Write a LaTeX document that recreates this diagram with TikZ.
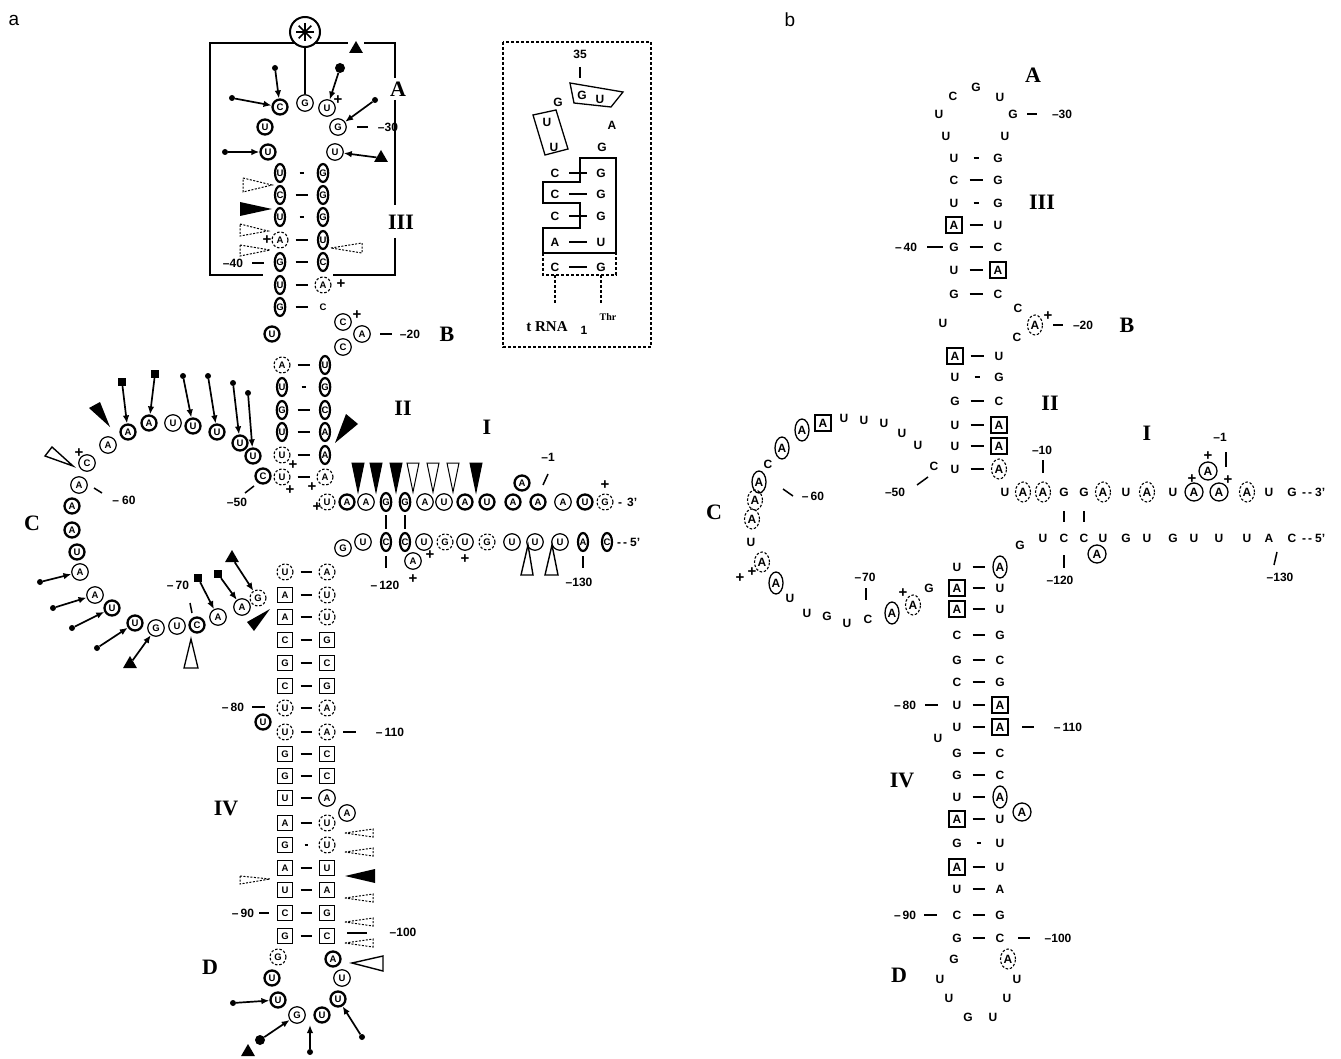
\documentclass[tikz,border=0pt]{standalone}
\usepackage{fontspec}
\setmainfont{Liberation Serif}
\setsansfont{Liberation Sans}
\usetikzlibrary{shapes.geometric,arrows.meta}
\tikzset{
  nt/.style={inner sep=0pt,font=\sffamily\bfseries\fontsize{9.5}{9.5}\selectfont},
  bc/.style={nt,circle,draw,line width=2.3pt,minimum size=15pt},
  mc/.style={nt,circle,draw,line width=1.2pt,minimum size=16.5pt},
  dc/.style={nt,circle,draw,line width=1.1pt,dash pattern=on 2.5pt off 1.8pt,minimum size=16pt},
  el/.style={nt,ellipse,draw,line width=2.2pt,minimum width=10pt,minimum height=18pt},
  bx/.style={nt,rectangle,draw,line width=1.4pt,minimum size=15pt},
  pl/.style={nt},
  num/.style={inner sep=0pt,font=\sffamily\bfseries\fontsize{12}{12}\selectfont},
  rl/.style={inner sep=0pt,font=\rmfamily\bfseries\fontsize{22}{22}\selectfont},
  pls/.style={inner sep=0pt,font=\sffamily\bfseries\fontsize{15}{15}\selectfont},
  bn/.style={inner sep=0pt,font=\sffamily\bfseries\fontsize{12}{12}\selectfont},
  bnx/.style={bn,rectangle,draw,line width=1.4pt,minimum size=16pt},
  bnc/.style={bn,circle,draw,line width=1.3pt,minimum size=18pt},
  bne/.style={bn,ellipse,draw,line width=1.3pt,minimum width=14pt,minimum height=22pt},
  bnd/.style={bn,ellipse,draw,line width=1.1pt,dash pattern=on 2.5pt off 1.8pt,minimum width=15pt,minimum height=20pt},
  bp/.style={line width=2.2pt,shorten <=15.5pt,shorten >=15.5pt},
  wp/.style={line width=2.2pt,shorten <=19.5pt,shorten >=19.5pt},
  ip/.style={line width=1.8pt,shorten <=14pt,shorten >=14pt},
  arr/.style={line width=1.7pt,-{Latex[length=8pt,width=6.5pt]}},
  dotn/.style={circle,fill,inner sep=0pt,minimum size=6pt},
  bdot/.style={circle,fill,inner sep=0pt,minimum size=10pt},
  sqn/.style={rectangle,fill,inner sep=0pt,minimum size=8pt},
  trin/.style={regular polygon,regular polygon sides=3,fill,inner sep=0pt,minimum size=16pt},
  dw/.style={line width=1pt,dash pattern=on 2pt off 1.5pt},
  tk/.style={line width=1.5pt},
}
\begin{document}
\begin{tikzpicture}[x=1pt,y=-1pt]
\useasboundingbox (0,0) rectangle (1341,1059);
\node[font=\sffamily\fontsize{19}{19}\selectfont] (lbla) at (14,20) {a};
\node[font=\sffamily\fontsize{19}{19}\selectfont] (lblb) at (790,20) {b};

% ================= PANEL A =================
% --- loop A
\node[circle,draw,line width=2pt,minimum size=30pt,inner sep=0pt] (star) at (305,32) {};
\foreach \ang in {0,45,90,135}
  \draw[line width=1.6pt] ([shift={(\ang:9pt)}]star.center) -- ([shift={(\ang+180:9pt)}]star.center);
\fill (star.center) circle (2.2pt);
\draw[tk] (295,43) -- (210,43) -- (210,275) -- (263,275);
\draw[tk] (315,43) -- (348,43);
\node[trin] (atop) at (356,49) {};
\draw[tk] (364,43) -- (395,43) -- (395,78);
\draw[tk] (395,100) -- (395,205);
\draw[tk] (395,238) -- (395,275) -- (333,275);
\node[rl] (labA) at (398,89) {A};
\node[rl] (labIII) at (401,222) {III};

\foreach \nm/\xx/\yy/\st/\lt in {la1/280/107/bc/C, la2/305/103/mc/G, la3/327/108/mc/U, la4/265/127/bc/U,
  la5/338/127/mc/G, la6/268/152/bc/U, la7/335/152/mc/U}
  \node[\st] (\nm) at (\xx,\yy) {\lt};
\draw[tk] (star) -- (la2);
\node[dotn] (ad1) at (275,68) {};
\node[bdot] (ad2) at (340,68) {};
\node[dotn] (ad3) at (232,98) {};
\node[dotn] (ad4) at (375,100) {};
\node[dotn] (ad5) at (225,152) {};
\node[trin] (at1) at (381,158) {};
\draw[arr] (ad1) -- (la1);
\draw[arr] (ad2) -- (la3);
\draw[arr] (ad3) -- (la1);
\draw[arr] (ad4) -- (la5);
\draw[arr] (ad5) -- (la6);
\draw[arr] (at1) -- (la7);
\node[pls] (p1) at (338,100) {+};
\draw[line width=1.5pt] (357,127) -- (368,127);
\node[num] (n30) at (388,127) {–30};

% --- stem III
\foreach \i/\yy/\ls/\lt/\rs/\rt in {1/173/el/U/el/G, 2/195/el/C/el/G, 3/217/el/U/el/G, 4/240/dc/A/el/U,
  5/262/el/G/el/C, 6/285/el/U/dc/A, 7/307/el/G/pl/C}
  {\node[\ls] (s3l\i) at (280,\yy) {\lt}; \node[\rs] (s3r\i) at (323,\yy) {\rt};}
\foreach \i in {2,4,5,6,7} \draw[bp] (s3l\i.center) -- (s3r\i.center);
\foreach \i in {1,3} \draw[wp] (s3l\i.center) -- (s3r\i.center);
\draw[dw] (243,178) -- (272,185) -- (243,192) -- cycle;
\fill (240,202) -- (272,209) -- (240,216) -- cycle;
\draw[dw] (240,224) -- (268,231) -- (240,236) -- cycle;
\draw[dw] (240,245) -- (270,250) -- (240,256) -- cycle;
\draw[dw] (331,248) -- (362,243) -- (362,253) -- cycle;
\node[pls] (p2) at (267,240) {+};
\node[pls] (p3) at (341,284) {+};
\node[num] (n40) at (233,263) {–40};
\draw[line width=1.6pt] (252,263) -- (264,263);

% --- B
\foreach \nm/\xx/\yy/\st/\lt in {lb1/272/334/bc/U, lb2/343/322/mc/C, lb3/362/334/mc/A, lb4/343/347/mc/C}
  \node[\st] (\nm) at (\xx,\yy) {\lt};
\node[pls] (p4) at (357,315) {+};
\draw[line width=1.5pt] (380,334) -- (392,334);
\node[num] (n20) at (410,334) {–20};
\node[rl] (labB) at (447,334) {B};

% --- stem II
\foreach \i/\yy/\ls/\lt/\rs/\rt in {1/365/dc/A/el/U, 2/387/el/U/el/G, 3/410/el/G/el/C, 4/432/el/U/el/A,
  5/455/dc/U/el/A, 6/477/dc/U/dc/A}
  {\node[\ls] (s2l\i) at (282,\yy) {\lt}; \node[\rs] (s2r\i) at (325,\yy) {\rt};}
\foreach \i in {1,3,4,5,6} \draw[bp] (s2l\i.center) -- (s2r\i.center);
\draw[wp] (s2l2.center) -- (s2r2.center);
\fill (335,443) -- (346,414) -- (358,424) -- cycle;
\node[pls] (p5) at (293,465) {+};
\node[pls] (p6) at (290,490) {+};
\node[pls] (p7) at (312,487) {+};
\node[pls] (p8) at (317,507) {+};
\node[rl] (labII) at (403,408) {II};
\node[rl] (labI) at (487,427) {I};

% --- stem I
\foreach \nm/\xx/\st/\lt in {t1/327/dc/U, t2/347/bc/A, t3/366/mc/A, t4/386/el/G, t5/405/el/G, t6/425/mc/A,
  t7/444/mc/U, t8/465/bc/A, t9/487/bc/U, t10/513/bc/A, t11/538/bc/A, t12/563/mc/A, t13/585/bc/U, t14/605/dc/G}
  \node[\st] (\nm) at (\xx,502) {\lt};
\node[bc] (tA) at (522,483) {A};
\foreach \nm/\xx/\yy/\st/\lt in {b1/343/548/mc/G, b2/363/542/mc/U, b3/386/542/el/C, b4/405/542/el/C, b5/424/542/mc/U,
  b6/445/542/dc/G, b7/465/542/mc/U, b8/487/542/dc/G, b9/512/542/mc/U, b10/535/542/mc/U, b11/560/542/mc/U,
  b12/583/542/el/A, b13/607/542/el/C, bA/413/561/mc/A}
  \node[\st] (\nm) at (\xx,\yy) {\lt};
\draw[line width=1.6pt,shorten <=3pt,shorten >=3pt] (t4) -- (b3);
\draw[line width=1.6pt,shorten <=3pt,shorten >=3pt] (t5) -- (b4);
\foreach \xx/\ff in {358/black,376/black,396/black,413/white,433/white,453/white,476/black}
  \filldraw[fill=\ff,line width=1pt] (\xx-6,463) -- (\xx+6,463) -- (\xx,492) -- cycle;
\draw[line width=1.4pt,fill=white] (528,545) -- (521,575) -- (533,575) -- cycle;
\draw[line width=1.4pt,fill=white] (552,545) -- (545,575) -- (558,575) -- cycle;
\node[num] (n1) at (548,457) {–1};
\draw[line width=1.5pt] (543,485) -- (548,474);
\node[pls] (p9) at (605,485) {+};
\node[pls] (p10) at (430,555) {+};
\node[pls] (p11) at (413,579) {+};
\node[pls] (p12) at (465,559) {+};
\node[num,anchor=west] (n3p) at (618,502) {-\hspace{5pt}3'};
\node[num,anchor=west] (n5p) at (617,542) {-\,-\hspace{3pt}5'};
\draw[line width=1.3pt] (386,556) -- (386,568);
\node[num] (n120) at (385,585) {–\,120};
\draw[line width=1.3pt] (583,556) -- (583,568);
\node[num] (n130) at (579,582) {–130};

% --- loop C
\foreach \nm/\xx/\yy/\st/\lt in {lc1/263/476/bc/C, lc2/253/456/bc/U, lc3/240/443/bc/U, lc4/217/432/bc/U,
  lc5/193/426/bc/U, lc6/173/423/mc/U, lc7/149/423/bc/A, lc8/128/432/bc/A, lc9/108/445/mc/A, lc10/87/463/mc/C,
  lc11/79/485/mc/A, lc12/72/506/bc/A, lc13/72/530/bc/A, lc14/77/552/bc/U, lc15/80/572/mc/A, lc16/95/595/mc/A,
  lc17/112/608/bc/U, lc18/135/623/bc/U, lc19/156/628/mc/G, lc20/177/626/mc/U, lc21/197/625/bc/C,
  lc22/218/617/mc/A, lc23/242/607/mc/A, lc24/258/598/dc/G}
  \node[\st] (\nm) at (\xx,\yy) {\lt};
\node[pls] (p13) at (79,453) {+};
\node[sqn] (cs1) at (122,382) {};
\node[sqn] (cs2) at (155,374) {};
\node[dotn] (cd1) at (183,376) {};
\node[dotn] (cd2) at (208,376) {};
\node[dotn] (cd3) at (233,383) {};
\node[dotn] (cd4) at (248,393) {};
\draw[arr] (cs1) -- (lc8);
\draw[arr] (cs2) -- (lc7);
\draw[arr] (cd1) -- (lc5);
\draw[arr] (cd2) -- (lc4);
\draw[arr] (cd3) -- (lc3);
\draw[arr] (cd4) -- (lc2);
\fill (110,427) -- (89,408) -- (100,402) -- cycle;
\draw[line width=1.4pt] (73,466) -- (45,456) -- (52,447) -- cycle;
\node[dotn] (cd5) at (40,582) {};
\node[dotn] (cd6) at (53,608) {};
\node[dotn] (cd7) at (72,628) {};
\node[dotn] (cd8) at (97,648) {};
\node[trin] (ct1) at (130,664) {};
\draw[arr] (cd5) -- (lc15);
\draw[arr] (cd6) -- (lc16);
\draw[arr] (cd7) -- (lc17);
\draw[arr] (cd8) -- (lc18);
\draw[arr] (ct1) -- (lc19);
\node[sqn] (cs3) at (198,578) {};
\node[sqn] (cs4) at (218,574) {};
\node[trin] (ct2) at (232,558) {};
\draw[arr] (cs3) -- (lc22);
\draw[arr] (cs4) -- (lc23);
\draw[arr] (ct2) -- (lc24);
\fill (270,609) -- (247,622) -- (254,631) -- cycle;
\draw[line width=1.3pt] (191,639) -- (184,668) -- (198,668) -- cycle;
\draw[line width=1.5pt] (94,488) -- (102,493);
\node[num] (n60) at (124,500) {–\hspace{3pt}60};
\node[num] (n50) at (237,502) {–50};
\draw[line width=1.5pt] (245,493) -- (254,486);
\node[num] (n70) at (178,585) {–\hspace{2pt}70};
\draw[line width=1.5pt] (190,603) -- (192,613);
\node[rl] (labC) at (32,523) {C};

% --- stem IV
\foreach \i/\yy/\ls/\lt/\rs/\rt in {1/572/dc/U/dc/A, 2/595/bx/A/dc/U, 3/617/bx/A/dc/U, 4/640/bx/C/bx/G,
  5/663/bx/G/bx/C, 6/686/bx/C/bx/G, 7/708/dc/U/dc/A, 8/732/dc/U/dc/A, 9/754/bx/G/bx/C, 10/776/bx/G/bx/C,
  11/798/bx/U/mc/A, 12/823/bx/A/dc/U, 13/845/bx/G/dc/U, 14/868/bx/A/bx/U, 15/890/bx/U/bx/A,
  16/913/bx/C/bx/G, 17/936/bx/G/bx/C}
  {\node[\ls] (s4l\i) at (285,\yy) {\lt}; \node[\rs] (s4r\i) at (327,\yy) {\rt};}
\foreach \i in {1,...,12,14,15,16,17} \draw[bp] (s4l\i.center) -- (s4r\i.center);
\draw[wp] (s4l13.center) -- (s4r13.center);
\node[bc] (s4u) at (263,722) {U};
\node[mc] (s4a) at (347,813) {A};
\node[num] (n80) at (233,707) {–\hspace{2pt}80};
\draw[line width=1.6pt] (252,707) -- (265,707);
\draw[line width=1.6pt] (343,732) -- (356,732);
\node[num] (n110) at (390,732) {–\hspace{2pt}110};
\node[rl] (labIV) at (226,808) {IV};
\foreach \yy in {833,852,898,922,943}
  \draw[dw] (345,\yy) -- (373,\yy-4) -- (373,\yy+4) -- cycle;
\fill (345,876) -- (375,869) -- (375,883) -- cycle;
\draw[dw] (240,876) -- (270,879) -- (240,884) -- cycle;
\draw[line width=1.3pt] (347,933) -- (367,933);
\node[num] (n100) at (403,932) {–100};
\node[num] (n90) at (243,913) {–\hspace{2pt}90};
\draw[line width=1.6pt] (259,913) -- (269,913);

% --- loop D
\foreach \nm/\xx/\yy/\st/\lt in {ld1/278/957/dc/G, ld2/333/959/bc/A, ld3/272/978/bc/U, ld4/342/978/mc/U,
  ld5/278/1000/bc/U, ld6/338/999/bc/U, ld7/297/1015/mc/G, ld8/322/1015/bc/U}
  \node[\st] (\nm) at (\xx,\yy) {\lt};
\draw[line width=1.4pt,fill=white] (352,963) -- (383,956) -- (383,971) -- cycle;
\node[rl] (labD) at (210,967) {D};
\node[dotn] (dd1) at (233,1003) {};
\node[bdot] (dd2) at (260,1040) {};
\node[trin] (dt1) at (248,1052) {};
\node[dotn] (dd3) at (310,1052) {};
\coordinate (dend) at (310,1025);
\node[dotn] (dd4) at (362,1037) {};
\draw[arr] (dd1) -- (ld5);
\draw[arr] (dd2) -- (ld7);
\draw[arr] (dd3) -- (dend);
\draw[arr] (dd4) -- (ld6);

% --- inset
\draw[line width=1.4pt,dash pattern=on 3pt off 2pt] (503,42) rectangle (651,347);
\node[bn] (i35) at (580,54) {35};
\draw[line width=1.3pt] (580,67) -- (580,78);
\draw[line width=1.3pt] (570,83) -- (623,92) -- (611,107) -- (574,103) -- cycle;
\draw[line width=1.3pt] (533,115) -- (556,110) -- (568,149) -- (545,155) -- cycle;
\foreach \nm/\xx/\yy/\lt in {iq1/582/95/G, iq2/600/99/U, iq3/558/102/G, iq4/612/125/A, iq5/547/122/U,
  iq6/554/147/U, iq7/602/147/G}
  \node[bn] (\nm) at (\xx,\yy) {\lt};
\foreach \i/\yy/\lt/\rt in {1/173/C/G, 2/194/C/G, 3/216/C/G, 4/242/A/U, 5/267/C/G}
  {\node[bn] (il\i) at (555,\yy) {\lt}; \node[bn] (ir\i) at (601,\yy) {\rt};}
\foreach \i in {1,...,5} \draw[ip] (il\i.center) -- (ir\i.center);
\draw[line width=1.5pt] (616,158) -- (616,253) -- (543,253) -- (543,228) -- (580,228) -- (580,203)
  -- (543,203) -- (543,182) -- (580,182) -- (580,158) -- cycle;
\draw[line width=1.3pt,dash pattern=on 3pt off 2pt] (543,253) -- (543,275) -- (616,275) -- (616,253);
\draw[line width=1.3pt,dash pattern=on 3pt off 2pt] (555,275) -- (555,303);
\draw[line width=1.3pt,dash pattern=on 3pt off 2pt] (601,275) -- (601,303);
\node[font=\rmfamily\bfseries\fontsize{15}{15}\selectfont,inner sep=0pt] (itrna) at (547,327) {t RNA};
\node[bn] (ione) at (584,330) {1};
\node[font=\rmfamily\bfseries\fontsize{10}{10}\selectfont,inner sep=0pt] (ithr) at (608,317) {Thr};

% ================= PANEL B =================
\foreach \nm/\xx/\yy/\st/\lt in {pa1/946/136/bn/U, pa2/939/114/bn/U, pa3/953/96/bn/C, pa4/976/87/bn/G,
  pa5/1000/97/bn/U, pa6/1013/114/bn/G, pa7/1005/136/bn/U}
  \node[\st] (\nm) at (\xx,\yy) {\lt};
\node[rl] (blabA) at (1033,75) {A};
\draw[line width=1.5pt] (1027,114) -- (1037,114);
\node[num] (bn30) at (1062,114) {–30};
\foreach \i/\yy/\ls/\lt/\rs/\rt in {1/158/bn/U/bn/G, 2/180/bn/C/bn/G, 3/203/bn/U/bn/G, 4/225/bnx/A/bn/U,
  5/247/bn/G/bn/C, 6/270/bn/U/bnx/A, 7/294/bn/G/bn/C}
  {\node[\ls] (t3l\i) at (954,\yy) {\lt}; \node[\rs] (t3r\i) at (998,\yy) {\rt};}
\foreach \i in {2,4,5,6,7} \draw[bp] (t3l\i.center) -- (t3r\i.center);
\foreach \i in {1,3} \draw[wp] (t3l\i.center) -- (t3r\i.center);
\node[rl] (blabIII) at (1042,202) {III};
\node[num] (bn40) at (906,247) {–\hspace{2pt}40};
\draw[line width=1.6pt] (927,247) -- (943,247);
\foreach \nm/\xx/\yy/\st/\lt in {pb1/943/323/bn/U, pb2/1018/308/bn/C, pb3/1035/325/bnd/A, pb4/1017/337/bn/C}
  \node[\st] (\nm) at (\xx,\yy) {\lt};
\node[pls] (bp1) at (1048,316) {+};
\draw[line width=1.5pt] (1053,325) -- (1063,325);
\node[num] (bn20) at (1083,325) {–20};
\node[rl] (blabB) at (1127,325) {B};

\foreach \i/\yy/\ls/\lt/\rs/\rt in {1/356/bnx/A/bn/U, 2/377/bn/U/bn/G, 3/401/bn/G/bn/C, 4/425/bn/U/bnx/A,
  5/446/bn/U/bnx/A, 6/469/bn/U/bnd/A}
  {\node[\ls] (t2l\i) at (955,\yy) {\lt}; \node[\rs] (t2r\i) at (999,\yy) {\rt};}
\foreach \i in {1,3,4,5,6} \draw[bp] (t2l\i.center) -- (t2r\i.center);
\draw[wp] (t2l2.center) -- (t2r2.center);
\node[rl] (blabII) at (1050,403) {II};
\node[rl] (blabI) at (1147,433) {I};

\foreach \nm/\xx/\st/\lt in {q1/1005/bn/U, q2/1023/bnd/A, q3/1043/bnd/A, q4/1064/bn/G, q5/1084/bn/G,
  q6/1103/bnd/A, q7/1126/bn/U, q8/1147/bnd/A, q9/1173/bn/U, q10/1194/bnc/A, q11/1219/bnc/A,
  q12/1247/bnd/A, q13/1269/bn/U, q14/1292/bn/G}
  \node[\st] (\nm) at (\xx,492) {\lt};
\node[bnc] (qA) at (1208,471) {A};
\node[pls] (bp2) at (1208,456) {+};
\node[pls] (bp3) at (1192,479) {+};
\node[pls] (bp4) at (1228,480) {+};
\node[num] (bn1) at (1220,437) {–1};
\draw[line width=1.5pt] (1226,452) -- (1226,467);
\node[num] (bn10) at (1042,450) {–10};
\draw[line width=1.5pt] (1043,460) -- (1043,473);
\node[num,anchor=west] (bn3p) at (1302,492) {-\,-\hspace{3pt}3'};
\foreach \nm/\xx/\yy/\st/\lt in {r1/1020/545/bn/G, r2/1043/538/bn/U, r3/1064/538/bn/C, r4/1084/538/bn/C,
  r5/1103/538/bn/U, r6/1126/538/bn/G, r7/1147/538/bn/U, r8/1173/538/bn/G, r9/1194/538/bn/U,
  r10/1219/538/bn/U, r11/1247/538/bn/U, r12/1269/538/bn/A, r13/1292/538/bn/C, rA/1097/554/bnc/A}
  \node[\st] (\nm) at (\xx,\yy) {\lt};
\node[num,anchor=west] (bn5p) at (1302,538) {-\,-\hspace{3pt}5'};
\draw[line width=1.8pt] (1064,511) -- (1064,522);
\draw[line width=1.8pt] (1084,511) -- (1084,522);
\draw[line width=1.5pt] (1064,555) -- (1064,568);
\node[num] (bn120) at (1060,580) {–120};
\draw[line width=1.5pt] (1277,552) -- (1274,565);
\node[num] (bn130) at (1280,577) {–130};

\foreach \nm/\xx/\yy/\st/\lt in {m1/934/466/bn/C, m2/918/445/bn/U, m3/902/433/bn/U, m4/884/423/bn/U,
  m5/864/420/bn/U, m6/844/418/bn/U, m7/823/423/bnx/A, m8/802/430/bne/A, m9/782/448/bne/A, m10/768/464/bn/C,
  m11/759/482/bne/A, m12/755/500/bnd/A, m13/752/519/bnd/A, m14/751/542/bn/U, m15/762/562/bnd/A,
  m16/776/583/bne/A, m17/790/598/bn/U, m18/807/613/bn/U, m19/827/616/bn/G, m20/847/623/bn/U,
  m21/868/619/bn/C, m22/892/613/bne/A, m23/913/605/bnd/A, m24/929/588/bn/G}
  \node[\st] (\nm) at (\xx,\yy) {\lt};
\node[pls] (bp5) at (740,578) {+};
\node[pls] (bp6) at (752,572) {+};
\node[pls] (bp7) at (903,593) {+};
\draw[line width=1.5pt] (783,489) -- (793,496);
\node[num] (bn60) at (813,496) {–\hspace{2pt}60};
\node[num] (bn50) at (895,492) {–50};
\draw[line width=1.5pt] (917,485) -- (928,477);
\node[num] (bn70) at (865,577) {–\hspace{1pt}70};
\draw[line width=1.5pt] (866,588) -- (866,600);
\node[rl] (blabC) at (714,512) {C};

\foreach \i/\yy/\ls/\lt/\rs/\rt in {1/567/bn/U/bne/A, 2/588/bnx/A/bn/U, 3/609/bnx/A/bn/U, 4/635/bn/C/bn/G,
  5/660/bn/G/bn/C, 6/682/bn/C/bn/G, 7/705/bn/U/bnx/A, 8/727/bn/U/bnx/A, 9/753/bn/G/bn/C, 10/775/bn/G/bn/C,
  11/797/bn/U/bne/A, 12/819/bnx/A/bn/U, 13/843/bn/G/bn/U, 14/867/bnx/A/bn/U, 15/889/bn/U/bn/A,
  16/915/bn/C/bn/G, 17/938/bn/G/bn/C}
  {\node[\ls] (t4l\i) at (957,\yy) {\lt}; \node[\rs] (t4r\i) at (1000,\yy) {\rt};}
\foreach \i in {1,...,12,14,15,16,17} \draw[bp] (t4l\i.center) -- (t4r\i.center);
\draw[wp] (t4l13.center) -- (t4r13.center);
\node[bn] (t4u) at (938,738) {U};
\node[bnc] (t4a) at (1022,812) {A};
\node[rl] (blabIV) at (902,780) {IV};
\node[num] (bn80) at (905,705) {–\hspace{2pt}80};
\draw[line width=1.6pt] (925,705) -- (938,705);
\draw[line width=1.6pt] (1022,727) -- (1034,727);
\node[num] (bn110) at (1068,727) {–\hspace{2pt}110};
\node[num] (bn90) at (905,915) {–\hspace{2pt}90};
\draw[line width=1.6pt] (924,915) -- (937,915);
\draw[line width=1.6pt] (1018,938) -- (1030,938);
\node[num] (bn100) at (1058,938) {–100};
\foreach \nm/\xx/\yy/\st/\lt in {pd1/954/959/bn/G, pd2/1008/959/bnd/A, pd3/940/979/bn/U, pd4/1017/979/bn/U,
  pd5/949/998/bn/U, pd6/1007/998/bn/U, pd7/968/1017/bn/G, pd8/993/1017/bn/U}
  \node[\st] (\nm) at (\xx,\yy) {\lt};
\node[rl] (blabD) at (899,975) {D};
\end{tikzpicture}
\end{document}
